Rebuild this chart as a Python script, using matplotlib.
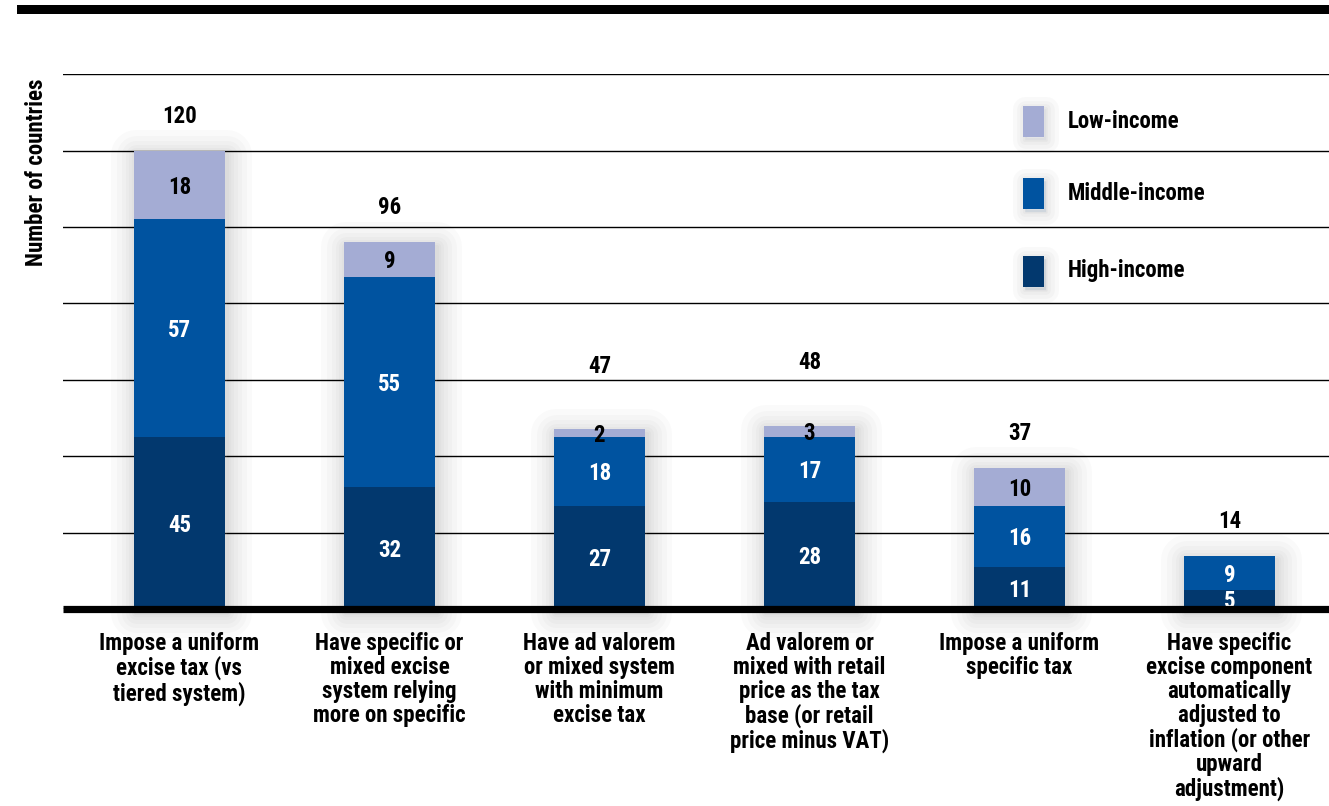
import matplotlib
matplotlib.use("Agg")
import matplotlib.pyplot as plt
from matplotlib import font_manager
from matplotlib.patches import Rectangle
import matplotlib.patheffects as pe
import numpy as np

# ---------------- data ----------------
categories = [
    "Impose a uniform\nexcise tax (vs\ntiered system)",
    "Have specific or\nmixed excise\nsystem relying\nmore on specific",
    "Have ad valorem\nor mixed system\nwith minimum\nexcise tax",
    "Ad valorem or\nmixed with retail\nprice as the tax\nbase (or retail\nprice minus VAT)",
    "Impose a uniform\nspecific tax",
    "Have specific\nexcise component\nautomatically\nadjusted to\ninflation (or other\nupward\nadjustment)",
]
high_income = [45, 32, 27, 28, 11, 5]
middle_income = [57, 55, 18, 17, 16, 9]
low_income = [18, 9, 2, 3, 10, 0]
totals = [120, 96, 47, 48, 37, 14]
series_names = ["High-income", "Middle-income", "Low-income"]
y_label = "Number of countries"

# ---------------- style ----------------
col_high = "#02386e"
col_mid = "#0053a0"
col_low = "#a4acd4"

available = {f.name for f in font_manager.fontManager.ttflist}
family = "DejaVu Sans"
for cand in ["Liberation Sans Narrow", "DejaVu Sans Condensed", "Roboto Condensed",
             "Open Sans Condensed", "Liberation Sans"]:
    if cand in available:
        family = cand
        break
plt.rcParams["font.family"] = [family, "DejaVu Sans"]
plt.rcParams["font.weight"] = "bold"

W, H = 1329, 806
fig = plt.figure(figsize=(W / 100, H / 100), dpi=100)
fig.patch.set_facecolor("white")

def fx(px):
    return px / W

def fy(py):
    return 1 - py / H

ax_left, ax_right, ax_top, ax_bottom = 63, 1329, 74.3, 609
ax = fig.add_axes([fx(ax_left), fy(ax_bottom), fx(ax_right - ax_left), (ax_bottom - ax_top) / H])

x = np.arange(len(categories))
width = 0.433

shadow = [
    pe.Stroke(linewidth=lw, foreground="black", alpha=0.018, offset=(1.5, -3),
              joinstyle="round")
    for lw in (36, 28, 21, 15, 10, 6, 3)
] + [pe.Normal()]

# shadow-carrying background bars
ax.bar(x, totals, width, color="white", linewidth=0, zorder=2,
       path_effects=shadow, clip_on=False)

ax.bar(x, high_income, width, color=col_high, linewidth=0, zorder=3)
ax.bar(x, middle_income, width, bottom=high_income, color=col_mid, linewidth=0, zorder=3)
bottom_low = np.array(high_income) + np.array(middle_income)
ax.bar(x, low_income, width, bottom=bottom_low, color=col_low, linewidth=0, zorder=3)

fs = 16.5
for i in range(len(x)):
    segs = [(0, high_income[i], "white"),
            (high_income[i], middle_income[i], "white"),
            (bottom_low[i], low_income[i], "black")]
    for base, val, c in segs:
        if val > 0:
            ax.text(x[i], base + val / 2 - 0.6, str(val), ha="center", va="center",
                    color=c, fontsize=fs, fontweight="bold", zorder=5)
    pad = 16.5 if 0 < low_income[i] < 5 else 9.0
    ax.text(x[i], totals[i] + pad, str(totals[i]), ha="center", va="center",
            color="black", fontsize=fs, fontweight="bold", zorder=5)

ax.set_xlim((ax_left - 179.5) / 210, (ax_right - 179.5) / 210)
ax.set_ylim(0, 140)
ax.set_yticks(np.arange(0, 141, 20))
ax.yaxis.grid(True, color="black", linewidth=1.0, zorder=1)
ax.set_axisbelow(True)
ax.tick_params(axis="y", left=False, labelleft=False)
ax.set_xticks(x)
ax.set_xticklabels(categories, fontsize=16.5, fontweight="bold", linespacing=1.05)
ax.tick_params(axis="x", length=0, pad=16.5)
for s in ["top", "left", "right"]:
    ax.spines[s].set_visible(False)
ax.spines["bottom"].set_linewidth(5.2)
ax.spines["bottom"].set_color("black")
ax.spines["bottom"].set_zorder(6)
ax.spines["bottom"].set_capstyle("butt")

# y label
fig.text(fx(37), fy(172), y_label, rotation=90, ha="center", va="center",
         fontsize=16.5, fontweight="bold")

# top black bar
fig.add_artist(Rectangle((fx(17), fy(14)), 1 - fx(17), 9 / H, transform=fig.transFigure,
                         facecolor="black", edgecolor="none"))

# legend
leg_items = [("Low-income", col_low, 106), ("Middle-income", col_mid, 178), ("High-income", col_high, 256)]
for name, c, ptop in leg_items:
    r = Rectangle((fx(1023), fy(ptop + 31)), 21 / W, 31 / H, transform=fig.transFigure,
                  facecolor=c, edgecolor="none", zorder=4,
                  path_effects=[pe.Stroke(linewidth=lw, foreground="black", alpha=0.025,
                                          offset=(1.5, -2.5), joinstyle="round")
                                for lw in (18, 12, 7, 3)] + [pe.Normal()])
    fig.add_artist(r)
    fig.text(fx(1068), fy(ptop + 15), name, ha="left", va="center", fontsize=16.5,
             fontweight="bold", color="black")

fig.savefig("out.png", dpi=100, facecolor="white")
